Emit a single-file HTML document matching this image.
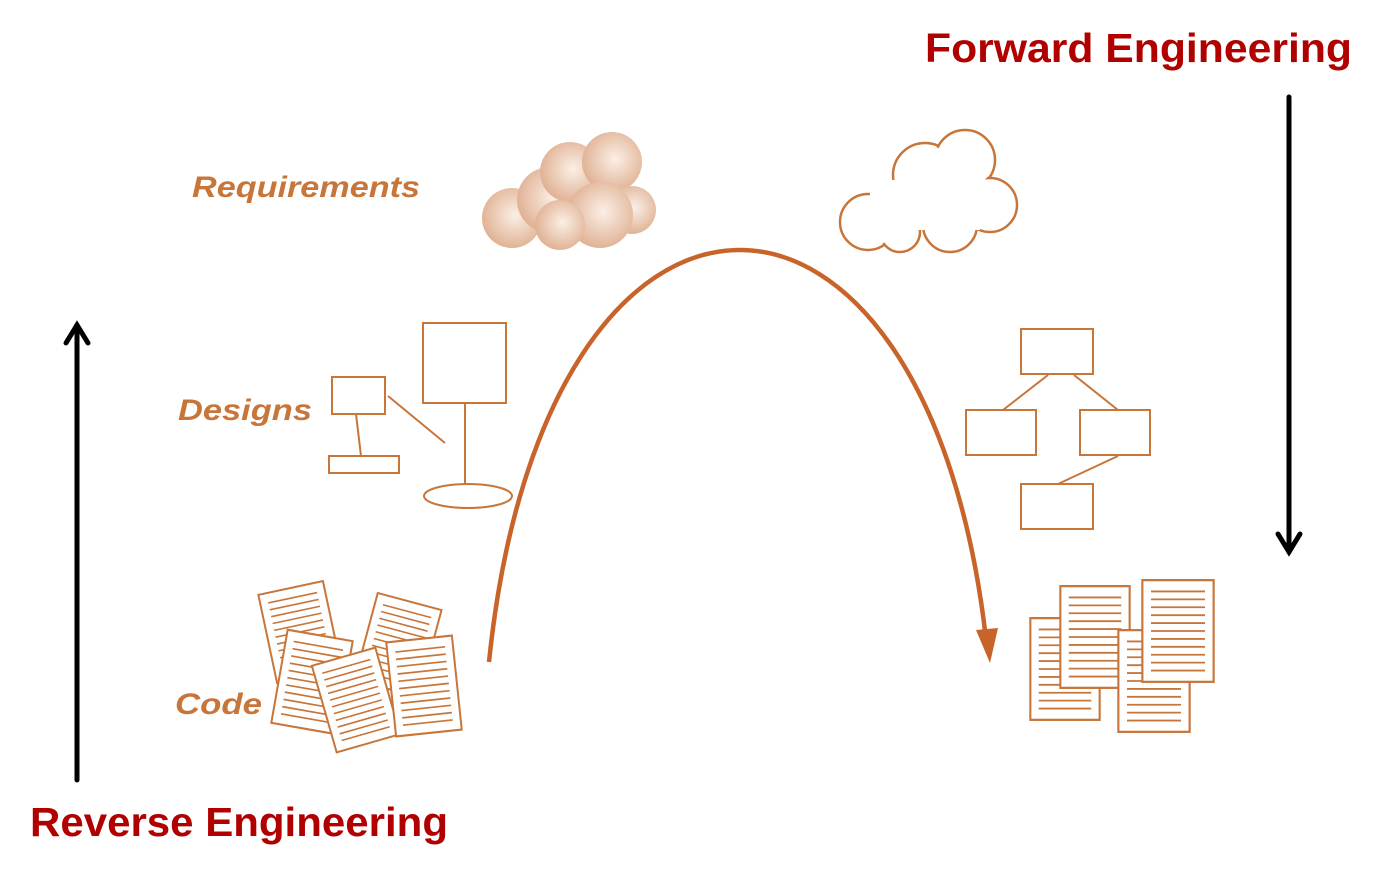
<!DOCTYPE html>
<html><head><meta charset="utf-8"><style>
html,body{margin:0;padding:0;background:#fff;width:1385px;height:880px;overflow:hidden}
</style></head><body>
<svg width="1385" height="880" viewBox="0 0 1385 880" xmlns="http://www.w3.org/2000/svg">
<defs>
<radialGradient id="cg" cx="0.55" cy="0.45" r="0.6">
<stop offset="0" stop-color="#fbeee4"/><stop offset="1" stop-color="#dba582"/>
</radialGradient>
<g id="pg">
<rect x="-33" y="-45" width="66" height="90" fill="#fff" stroke="#c8753a" stroke-width="2"/>
<g stroke="#c8753a" stroke-width="1.6">
<line x1="-25" y1="-35" x2="25" y2="-35"/><line x1="-25" y1="-28" x2="25" y2="-28"/>
<line x1="-25" y1="-21" x2="25" y2="-21"/><line x1="-25" y1="-14" x2="25" y2="-14"/>
<line x1="-25" y1="-7" x2="25" y2="-7"/><line x1="-25" y1="0" x2="25" y2="0"/>
<line x1="-25" y1="7" x2="25" y2="7"/><line x1="-25" y1="14" x2="25" y2="14"/>
<line x1="-25" y1="21" x2="25" y2="21"/><line x1="-25" y1="28" x2="25" y2="28"/>
<line x1="-25" y1="35" x2="25" y2="35"/>
</g>
</g>
</defs>
<g font-family="Liberation Sans, sans-serif" font-weight="bold" font-style="italic" fill="#c8753a" font-size="30">
<text x="192" y="197" textLength="228" lengthAdjust="spacingAndGlyphs">Requirements</text>
<text x="178" y="420" textLength="134" lengthAdjust="spacingAndGlyphs">Designs</text>
<text x="175" y="714" textLength="87" lengthAdjust="spacingAndGlyphs">Code</text>
</g>
<g font-family="Liberation Sans, sans-serif" font-weight="bold" fill="#b00000" font-size="41">
<text x="925" y="62" textLength="427" lengthAdjust="spacingAndGlyphs">Forward Engineering</text>
<text x="30" y="836" textLength="418" lengthAdjust="spacingAndGlyphs">Reverse Engineering</text>
</g>
<g stroke="#000" stroke-width="5" fill="none" stroke-linecap="round">
<line x1="77" y1="780" x2="77" y2="325"/><polyline points="66,343 77,325 88,343"/>
<line x1="1289" y1="97" x2="1289" y2="552"/><polyline points="1278,534 1289,552 1300,534"/>
</g>
<g fill="url(#cg)" opacity="0.9">
<circle cx="512" cy="218" r="30"/><circle cx="550" cy="200" r="33"/><circle cx="570" cy="172" r="30"/>
<circle cx="612" cy="162" r="30"/><circle cx="632" cy="210" r="24"/><circle cx="600" cy="215" r="33"/>
<circle cx="560" cy="225" r="25"/>
</g>
<g fill="#fff" stroke="#c8753a" stroke-width="2.5">
<circle cx="868" cy="222" r="28"/><circle cx="900" cy="232" r="20"/><circle cx="925" cy="175" r="32"/>
<circle cx="965" cy="160" r="30"/><circle cx="990" cy="205" r="27"/><circle cx="950" cy="225" r="27"/>
</g>
<g fill="#fff"><circle cx="868" cy="222" r="26"/><circle cx="900" cy="230" r="18"/><circle cx="925" cy="175" r="30"/><circle cx="965" cy="160" r="28"/><circle cx="990" cy="205" r="25"/><circle cx="950" cy="225" r="25"/><rect x="870" y="180" width="110" height="50"/></g>
<g stroke="#c8753a" stroke-width="2" fill="none">
<rect x="332" y="377" width="53" height="37"/>
<rect x="329" y="456" width="70" height="17"/>
<rect x="423" y="323" width="83" height="80"/>
<ellipse cx="468" cy="496" rx="44" ry="12"/>
<line x1="356" y1="414" x2="361" y2="456"/>
<line x1="388" y1="396" x2="445" y2="443"/>
<line x1="465" y1="404" x2="465" y2="484"/>
</g>
<g stroke="#c8753a" stroke-width="2" fill="none">
<rect x="1021" y="329" width="72" height="45"/>
<rect x="966" y="410" width="70" height="45"/>
<rect x="1080" y="410" width="70" height="45"/>
<rect x="1021" y="484" width="72" height="45"/>
<line x1="1003" y1="410" x2="1048" y2="375"/>
<line x1="1118" y1="410" x2="1074" y2="375"/>
<line x1="1058" y1="484" x2="1118" y2="456"/>
</g>
<use href="#pg" transform="translate(300,632) rotate(-12)"/>
<use href="#pg" transform="translate(312,682) rotate(10) scale(1,1.05)"/>
<use href="#pg" transform="translate(398,645) rotate(15)"/>
<use href="#pg" transform="translate(356,700) rotate(-16)"/>
<use href="#pg" transform="translate(424,686) rotate(-6) scale(1,1.05)"/>
<use href="#pg" transform="translate(1065,669) scale(1.05,1.13)"/>
<use href="#pg" transform="translate(1095,637) scale(1.05,1.13)"/>
<use href="#pg" transform="translate(1154,681) scale(1.08,1.13)"/>
<use href="#pg" transform="translate(1178,631) scale(1.08,1.13)"/>
<path d="M489,662 C545,115 930,115 987,648" fill="none" stroke="#c8642a" stroke-width="4.5"/>
<polygon points="990,663 976,630 998,628" fill="#c8642a"/>
</svg>
</body></html>
